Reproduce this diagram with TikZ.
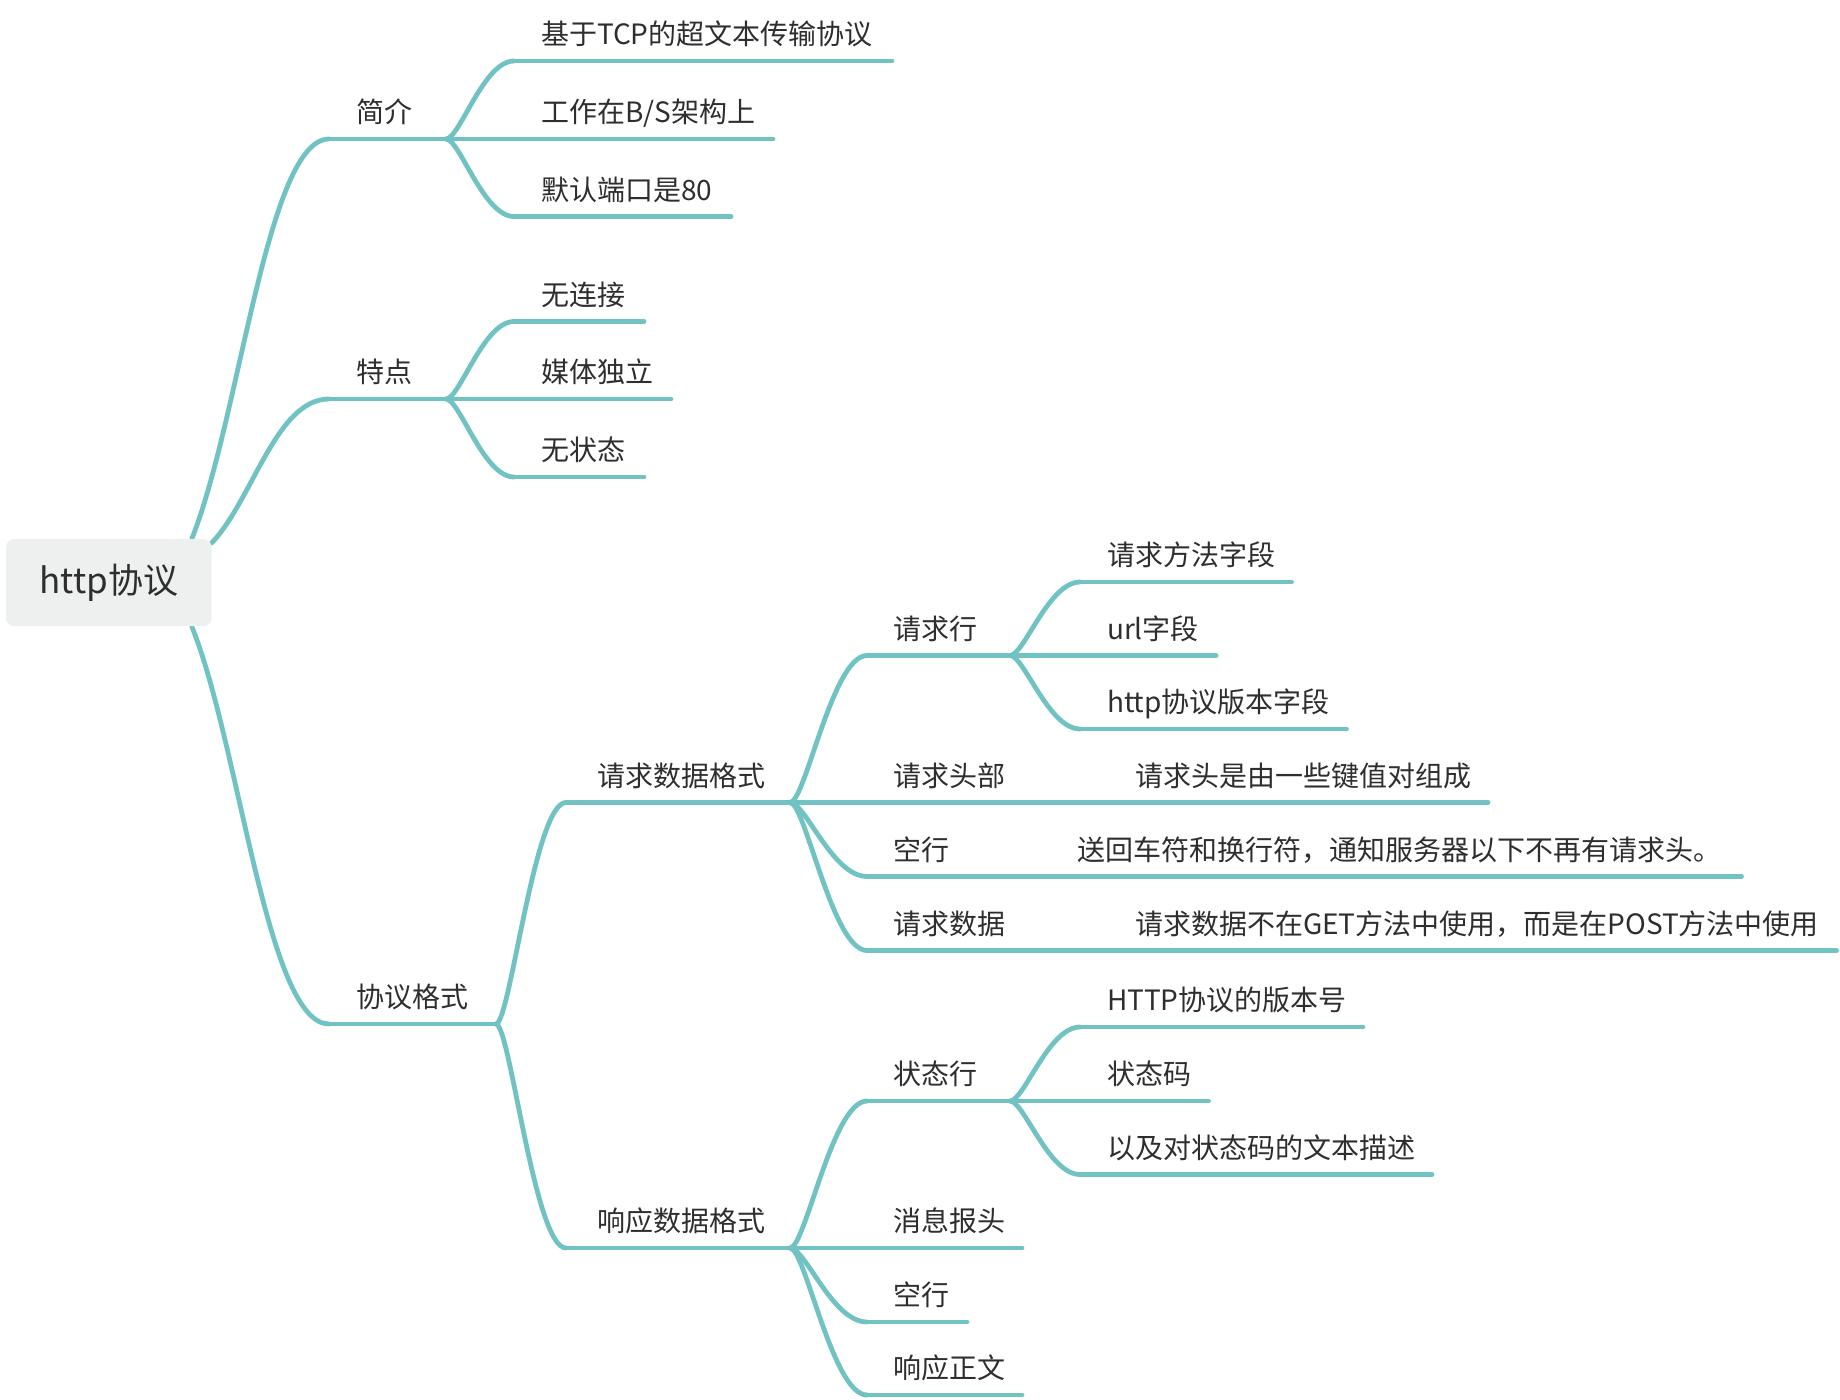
\documentclass[tikz,border=0pt]{standalone}
\usepackage{fontspec}
\setmainfont{Noto Sans CJK SC}
\usetikzlibrary{calc,backgrounds}
\definecolor{branchc}{HTML}{70C3C2}
\definecolor{txtc}{HTML}{2E2E2E}
\definecolor{rootfill}{HTML}{EEF0EF}
\tikzset{
  conn/.style={draw=branchc, line width=4.8pt, line cap=round, line join=round},
  topic/.style={anchor=south west, inner xsep=0pt, inner ysep=16.5pt, outer sep=0pt,
    text depth=0pt, font=\fontsize{28pt}{33pt}\selectfont, text=txtc},
  rootbox/.style={rectangle, rounded corners=8pt, fill=rootfill, minimum width=205.5pt,
    minimum height=87pt, inner sep=0pt, font=\fontsize{35pt}{42pt}\selectfont, text=txtc},
  subcurve/.style={to path={let \p1=(\tikztostart), \p2=(\tikztotarget) in
    .. controls ({\x1+0.2*(\x2-\x1)},\y1) and ({\x1+0.55*(\x2-\x1)},\y2) .. (\tikztotarget)}},
  rootcurve/.style={to path={let \p1=(\tikztostart), \p2=(\tikztotarget) in
    .. controls ({\x1+0.35*(\x2-\x1)},{\y1+0.3*(\y2-\y1)}) and ({\x1+0.55*(\x2-\x1)},\y2) .. (\tikztotarget)}},
}
% name, L, R, y, text x, text
\newcommand\mt[6]{\node[topic] (#1) at (#2,#4) {\makebox[\dimexpr#3pt-#2pt\relax][l]{\hspace*{\dimexpr#5pt-#2pt\relax}#6}};}
\begin{document}
\begin{tikzpicture}[x=1pt,y=-1pt]
\useasboundingbox (0,0) rectangle (1840,1400);

\node[rootbox] (root) at (108.8,582.6) {\raisebox{-3pt}{http协议}};

% level 1
\mt{jj}{329}{446}{139}{356}{简介}
\mt{td}{329}{446}{399}{356}{特点}
\mt{xy}{329}{496}{1024}{356}{协议格式}

% 简介
\mt{a1}{514}{892}{61}{541}{基于TCP的超文本传输协议}
\mt{a2}{514}{773}{139}{541}{工作在B/S架构上}
\mt{a3}{514}{731}{216.5}{541}{默认端口是80}
% 特点
\mt{b1}{514}{644}{321.5}{541}{无连接}
\mt{b2}{514}{671}{399}{541}{媒体独立}
\mt{b3}{514}{644}{477}{541}{无状态}
% 协议格式
\mt{c1}{566}{790}{802.5}{597}{请求数据格式}
\mt{c2}{566}{790}{1248}{597}{响应数据格式}
% 请求数据格式
\mt{d1}{867}{1010}{655.5}{893}{请求行}
\mt{d2}{867}{1022}{802.5}{893}{请求头部}
\mt{d3}{867}{967}{876.5}{893}{空行}
\mt{d4}{867}{1022}{950.5}{893}{请求数据}
% 请求行
\mt{e1}{1080}{1291.5}{582}{1107}{请求方法字段}
\mt{e2}{1080}{1216}{655.5}{1107}{url字段}
\mt{e3}{1080}{1346.5}{729}{1107}{http协议版本字段}
\mt{e4}{1109}{1488}{802.5}{1135}{请求头是由一些键值对组成}
\mt{e5}{1051}{1741.5}{876.5}{1077}{送回车符和换行符，通知服务器以下不再有请求头。}
\mt{e6}{1109}{1836.5}{950.5}{1135}{请求数据不在GET方法中使用，而是在POST方法中使用}
% 响应数据格式
\mt{f1}{867}{1010}{1101}{893}{状态行}
\mt{f2}{867}{1022}{1248}{893}{消息报头}
\mt{f3}{867}{967}{1322}{893}{空行}
\mt{f4}{867}{1022}{1395}{893}{响应正文}
% 状态行
\mt{g1}{1080}{1363}{1027}{1107}{HTTP协议的版本号}
\mt{g2}{1080}{1208.5}{1101}{1107}{状态码}
\mt{g3}{1080}{1432}{1174.5}{1107}{以及对状态码的文本描述}

\begin{scope}[on background layer]
  \coordinate (r1) at ($(root.north east)+(-20,0)$);
  \coordinate (r2) at ($(root.north east)+(0,4)$);
  \coordinate (r3) at ($(root.south east)+(-20,0)$);
  \draw[conn] (r1) to[rootcurve] (jj.south west);
  \draw[conn] (r2) to[rootcurve] (td.south west);
  \draw[conn] (r3) to[rootcurve] (xy.south west);
\end{scope}

\foreach \n in {jj,td,xy,a1,a2,a3,b1,b2,b3,c1,c2,d1,d2,d3,d4,e1,e2,e3,e4,e5,e6,f1,f2,f3,f4,g1,g2,g3}
  \draw[conn] (\n.south west) -- (\n.south east);

\foreach \p/\c in {jj/a1,jj/a2,jj/a3,td/b1,td/b2,td/b3,xy/c1,xy/c2,
  c1/d1,c1/d2,c1/d3,c1/d4,d1/e1,d1/e2,d1/e3,d2/e4,d3/e5,d4/e6,
  c2/f1,c2/f2,c2/f3,c2/f4,f1/g1,f1/g2,f1/g3}
  \draw[conn] (\p.south east) to[subcurve] (\c.south west);
\end{tikzpicture}
\end{document}
